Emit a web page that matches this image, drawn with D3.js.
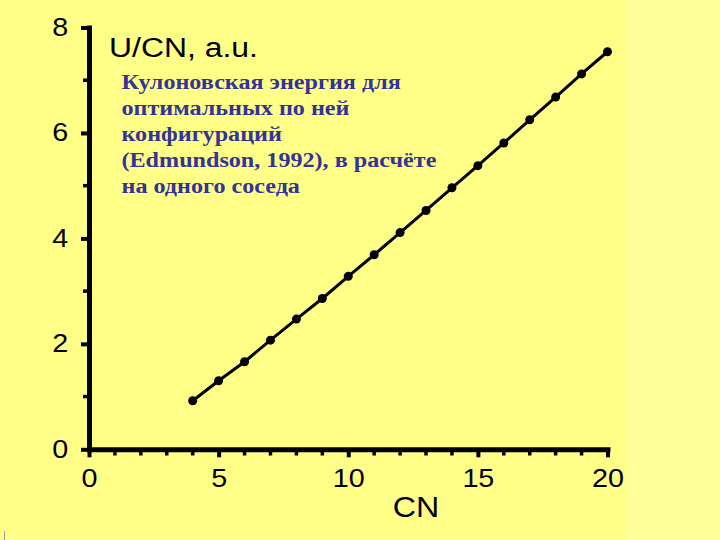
<!DOCTYPE html>
<html><head><meta charset="utf-8">
<script src="https://cdn.jsdelivr.net/npm/d3@7"></script>
<style>html,body{margin:0;padding:0;background:#ffff88;}svg{display:block;}</style>
</head><body>
<svg id="chart" width="720" height="540"></svg>
<script>
const cn = [4,5,6,7,8,9,10,11,12,13,14,15,16,17,18,19,20];
const ucn = [0.92,1.30,1.66,2.07,2.47,2.86,3.28,3.69,4.11,4.53,4.96,5.38,5.81,6.25,6.68,7.12,7.54];
const xMajorTicks = [0,5,10,15,20];
const yMajorTicks = [0,2,4,6,8];
const xMinorTicks = d3.range(0,21,1);
const yMinorTicks = d3.range(0,9,1);
const yTitle = "U/CN, a.u.";
const xTitle = "CN";
const noteLines = ["Кулоновская энергия для","оптимальных по ней","конфигураций","(Edmundson, 1992), в расчёте","на одного соседа"];

const SX = 1.15; // horizontal stretch of text in the reference
const svg = d3.select("#chart");
svg.append("rect").attr("x",0).attr("y",0).attr("width",720).attr("height",540).attr("fill","#ffff88");
svg.append("rect").attr("x",628).attr("y",0).attr("width",92).attr("height",540).attr("fill","#ffff99");
svg.append("line").attr("x1",4.5).attr("x2",4.5).attr("y1",531).attr("y2",540).attr("stroke","#999").attr("stroke-width",1);

const x = d3.scaleLinear().domain([0,20]).range([89,607.5]);
const y = d3.scaleLinear().domain([0,8]).range([449.3,27.5]);

const font = "'Liberation Sans', Arial, sans-serif";
function stretch(sel, ax, ay, s){
  sel.attr("transform", `translate(${ax},${ay}) scale(${s},1) translate(${-ax},${-ay})`);
}

// minor ticks
const gMinor = svg.append("g");
gMinor.selectAll(".xm").data(xMinorTicks.filter(d=>!xMajorTicks.includes(d))).join("line")
  .attr("x1",d=>x(d)).attr("x2",d=>x(d)).attr("y1",449).attr("y2",455.5)
  .attr("stroke","#000").attr("stroke-width",3.5);
gMinor.selectAll(".ym").data(yMinorTicks.filter(d=>!yMajorTicks.includes(d))).join("line")
  .attr("x1",83).attr("x2",89).attr("y1",d=>y(d)).attr("y2",d=>y(d))
  .attr("stroke","#000").attr("stroke-width",3.5);

// axes
const xAxis = d3.axisBottom(x).tickValues(xMajorTicks).tickSize(8).tickSizeOuter(0).tickPadding(12);
const yAxis = d3.axisLeft(y).tickValues(yMajorTicks).tickSize(8).tickSizeOuter(0).tickPadding(10);
const gx = svg.append("g").attr("transform","translate(0,449.3)").call(xAxis);
const gy = svg.append("g").attr("transform","translate(89,0)").call(yAxis);
[gx,gy].forEach(g=>{
  g.select(".domain").attr("stroke","#000").attr("stroke-width",5).attr("stroke-linecap","square");
  g.selectAll(".tick line").attr("stroke","#000").attr("stroke-width",4);
  g.selectAll(".tick text").attr("fill","#000").style("font-family",font).style("font-size","25px")
    .attr("transform",`scale(${SX},1)`);
});
gx.selectAll(".tick text").attr("dy","0.72em");

// line + points
const line = d3.line().x((d,i)=>x(cn[i])).y(d=>y(d));
svg.append("path").datum(ucn).attr("d",line).attr("fill","none").attr("stroke","#000").attr("stroke-width",3);
svg.selectAll(".pt").data(ucn).join("circle")
  .attr("cx",(d,i)=>x(cn[i])).attr("cy",d=>y(d)).attr("r",4.5).attr("fill","#000");

// titles
const t1 = svg.append("text").attr("x",109).attr("y",57).text(yTitle)
  .style("font-family",font).style("font-size","28px").attr("fill","#000");
stretch(t1,109,57,1.14);
const t2 = svg.append("text").attr("x",416).attr("y",517).attr("text-anchor","middle").text(xTitle)
  .style("font-family",font).style("font-size","29px").attr("fill","#000");
stretch(t2,416,517,1.11);

// note
const note = svg.append("text").style("font-family","'Liberation Serif','Times New Roman',serif")
  .style("font-size","21px").style("font-weight","bold").attr("fill","#333399");
noteLines.forEach((t,i)=>{
  note.append("tspan").attr("x",121.5).attr("y",89.5+i*25.8).text(t);
});
stretch(note,121.5,0,1.15);
</script>
</body></html>
